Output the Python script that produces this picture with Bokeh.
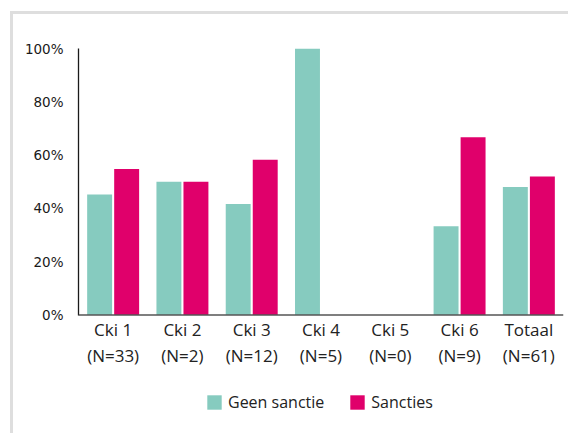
from bokeh.plotting import figure
from bokeh.models import (ColumnDataSource, FactorRange, FixedTicker, PrintfTickFormatter,
                          Legend, LegendItem, LabelSet, Span)
from bokeh.core.properties import value
from bokeh.transform import dodge
from bokeh.embed import file_html
from bokeh.resources import INLINE

categories = ["Cki 1", "Cki 2", "Cki 3", "Cki 4", "Cki 5", "Cki 6", "Totaal"]
n_labels = ["(N=33)", "(N=2)", "(N=12)", "(N=5)", "(N=0)", "(N=9)", "(N=61)"]
geen_sanctie = [45.2, 50.0, 41.7, 100.0, 0.0, 33.3, 48.0]
sancties = [54.8, 50.0, 58.3, 0.0, 0.0, 66.7, 52.0]
y_ticks = [0, 20, 40, 60, 80, 100]

GREEN = "#86cbbf"
PINK = "#e0006b"

src = ColumnDataSource(dict(cat=categories, n=n_labels, zero=[0] * len(categories),
                            geen=geen_sanctie, sanc=sancties))

p = figure(x_range=FactorRange(*categories, range_padding=0), y_range=(-44.8, 100),
           width=558, height=422, output_backend="svg", toolbar_location=None,
           min_border_left=65, min_border_top=34, min_border_right=8, min_border_bottom=2)
p.styles = {"border-left": "3px solid #dedede", "border-top": "3px solid #dedede",
            "margin-left": "10px", "margin-top": "11px"}

r1 = p.vbar(x=dodge("cat", -0.195, range=p.x_range), top="geen", width=0.36, source=src,
            fill_color=GREEN, line_color=None)
r2 = p.vbar(x=dodge("cat", 0.195, range=p.x_range), top="sanc", width=0.36, source=src,
            fill_color=PINK, line_color=None)

p.outline_line_color = None
p.xgrid.grid_line_color = None
p.ygrid.grid_line_color = None
p.xaxis.visible = False

p.yaxis.bounds = (0, 100)
p.yaxis.ticker = FixedTicker(ticks=y_ticks)
p.yaxis.formatter = PrintfTickFormatter(format="%d%%")
p.yaxis.major_tick_line_color = None
p.yaxis.minor_tick_line_color = None
p.yaxis.axis_line_color = "#1a1a1a"
p.yaxis.axis_line_width = 1.3
p.yaxis.major_label_text_font = "DejaVu Sans"
p.yaxis.major_label_text_font_size = "13.5px"
p.yaxis.major_label_text_color = "#1a1a1a"
p.yaxis.major_label_standoff = 9

p.add_layout(Span(location=0, dimension="width", line_color="#555555", line_width=1.5))

cat_lbl = LabelSet(x="cat", y="zero", text="cat", source=src, y_offset=-21,
                   text_align="center", text_baseline="alphabetic",
                   text_font=value("Open Sans"), text_font_size=value("17px"),
                   text_color="#222222")
n_lbl = LabelSet(x="cat", y="zero", text="n", source=src, y_offset=-47,
                 text_align="center", text_baseline="alphabetic",
                 text_font=value("Open Sans"), text_font_size=value("17px"),
                 text_color="#222222")
p.add_layout(cat_lbl)
p.add_layout(n_lbl)

legend = Legend(items=[LegendItem(label="Geen sanctie", renderers=[r1]),
                       LegendItem(label="Sancties", renderers=[r2])],
                orientation="horizontal", location=(127, 21),
                label_text_font="Open Sans", label_text_font_size="16px",
                label_text_color="#222222", glyph_width=18, glyph_height=18,
                label_standoff=5, spacing=24, border_line_color=None,
                background_fill_alpha=0, margin=0, padding=0)
p.add_layout(legend)

open("out.html", "w").write(file_html(p, INLINE))
